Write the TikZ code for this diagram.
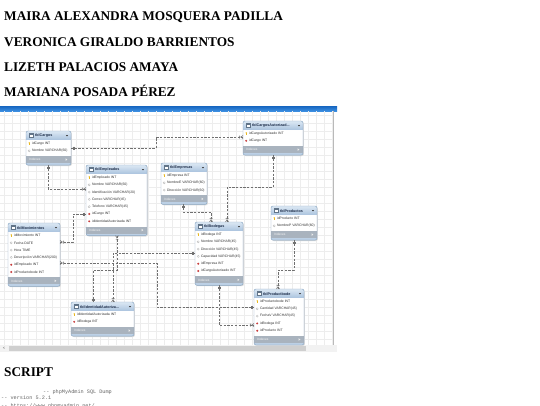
\documentclass[tikz,border=0pt]{standalone}
\usepackage{fontspec}
\setmainfont{Liberation Serif}
\setmonofont{Liberation Mono}
\newfontfamily\uifont{Liberation Sans}
\usetikzlibrary{calc}

\definecolor{hdtop}{HTML}{DCE8F4}
\definecolor{hdbot}{HTML}{A6C0DC}
\definecolor{tbord}{HTML}{8AA6C2}
\definecolor{idxbar}{HTML}{A9B3BE}
\definecolor{conn}{HTML}{707070}
\definecolor{gridc}{HTML}{EDEDED}
\definecolor{bartop}{HTML}{1565C0}
\definecolor{barbot}{HTML}{3C8EE0}
\definecolor{keyc}{HTML}{E8B820}
\definecolor{fkc}{HTML}{C83C3C}
\definecolor{rowc}{HTML}{333333}
\definecolor{hdc}{HTML}{1C2C48}
\definecolor{codec}{HTML}{666666}

\newcommand\iconk[2]{%
  \fill[keyc] ({#1},{#2-0.7}) circle[radius=0.75pt];
  \fill[keyc] ({#1-0.3},{#2-0.5}) rectangle ({#1+0.3},{#2+1.4});
}
\newcommand\iconn[2]{%
  \filldraw[draw=gray!65, fill=white, line width=0.25pt] ({#1},{#2-1.1}) -- ({#1+1.1},{#2}) -- ({#1},{#2+1.1}) -- ({#1-1.1},{#2}) -- cycle;
}
\newcommand\iconf[2]{%
  \fill[fkc] ({#1},{#2-1.1}) -- ({#1+1.1},{#2}) -- ({#1},{#2+1.1}) -- ({#1-1.1},{#2}) -- cycle;
}

% #1 name, #2 left, #3 top, #4 width, #5 title, #6 number of rows, #7 rows
\newcommand\dbtable[7]{%
  \pgfmathsetmacro\tH{19.5+7.3*#6}%
  \pgfmathsetmacro\tR{#2+#4}%
  \pgfmathsetmacro\tB{#3+\tH}%
  \pgfmathsetmacro\tI{#3+10.5+7.3*#6}%
  \fill[black!14, rounded corners=2pt] ({#2+0.9},{#3+0.9}) rectangle ({\tR+0.9},{\tB+0.9});
  \fill[hdbot!75, rounded corners=2pt] (#2,#3) rectangle (\tR,\tB);
  \shade[top color=hdtop, bottom color=hdbot, rounded corners=2pt] (#2,#3) rectangle (\tR,{#3+9.5});
  \fill[white] ({#2+0.4},{#3+9}) rectangle ({\tR-0.4},\tI);
  \fill[idxbar] ({#2+0.4},\tI) rectangle ({\tR-0.4},{\tI+7});
  \filldraw[draw=tbord!70!black, fill=white, line width=0.3pt] ({#2+3},{#3+2.6}) rectangle ({#2+7},{#3+6.6});
  \fill[tbord!70!black] ({#2+3},{#3+2.6}) rectangle ({#2+7},{#3+3.6});
  \node[hdtext, anchor=west] (#1-t) at ({#2+9},{#3+4.8}) {#5};
  \fill[gray!50!black] ({\tR-5.2},{#3+4}) -- ({\tR-2.8},{#3+4}) -- ({\tR-4},{#3+5.4}) -- cycle;
  \foreach \rowkind/\rowtxt [count=\ri] in {#7} {%
    \pgfmathsetmacro\yy{#3+12.5+7.3*(\ri-1)}%
    \csname icon\rowkind\endcsname{#2+3.2}{\yy}%
    \node[rowtext, anchor=west] (#1-r\ri) at ({#2+5.8},\yy) {\rowtxt};
  }
  \node[idxtext, anchor=west] (#1-i) at ({#2+3},{\tI+3.6}) {Indexes};
  \fill[white!85!gray] ({\tR-5.5},{\tI+2.2}) -- ({\tR-3.6},{\tI+3.5}) -- ({\tR-5.5},{\tI+4.8}) -- cycle;
  \node[tblframe, minimum width={#4 pt}, minimum height={\tH pt}] (#1) at (#2,#3) {};
}

\tikzset{
  titletext/.style={anchor=base west, inner sep=0, font=\fontsize{13.3}{16}\selectfont\bfseries},
  codetext/.style={anchor=base west, inner sep=0, font=\ttfamily\fontsize{5.2}{6}\selectfont, text=codec},
  rowtext/.style={inner sep=0, font=\uifont\fontsize{3.4}{4}\selectfont, text=rowc},
  hdtext/.style={inner sep=0, font=\uifont\bfseries\fontsize{3.7}{4.4}\selectfont, text=hdc},
  idxtext/.style={inner sep=0, font=\uifont\fontsize{3.2}{4}\selectfont, text=white!92!gray},
  tblframe/.style={draw=tbord, line width=0.45pt, rounded corners=2pt, inner sep=0, outer sep=0, anchor=north west},
  relline/.style={draw=conn, line width=0.45pt, dash pattern=on 2.3pt off 1.4pt},
  gridline/.style={draw=gridc, line width=0.3pt},
  onemk/.pic={\draw[conn, line width=0.4pt] (0,0) -- (4.2,0) (1.8,-1.5) -- (1.8,1.5) (3.2,-1.5) -- (3.2,1.5);},
  manymk/.pic={\draw[conn, line width=0.4pt] (0,-1.6) -- (2.4,0) -- (0,1.6) (0,0) -- (4.6,0) (3.6,-1.5) -- (3.6,1.5);}
}

\begin{document}
\begin{tikzpicture}[x=1pt,y=-1pt]
\useasboundingbox (0,0) rectangle (540,405);
\fill[white] (0,0) rectangle (540,405);

% names
\node[titletext] (n1) at (4,20.7) {MAIRA ALEXANDRA MOSQUERA PADILLA};
\node[titletext] (n2) at (4,46.2) {VERONICA GIRALDO BARRIENTOS};
\node[titletext] (n3) at (4,71.2) {LIZETH PALACIOS AMAYA};
\node[titletext] (n4) at (4,96) {MARIANA POSADA PÉREZ};

% blue bar
\shade[top color=bartop, bottom color=barbot] (0,106) rectangle (337,111);

% grid
\foreach \gx in {4,12,...,332} \draw[gridline] (\gx,111) -- (\gx,345);
\foreach \gy in {115,123,...,344} \draw[gridline] (0,\gy) -- (333,\gy);
\draw[gray!55, line width=0.4pt] (333,111) -- (333,345);

% scrollbar
\fill[gray!10] (0,345) rectangle (337,352);
\fill[gray!38] (9,346.3) rectangle (306,350.7);
\node[inner sep=0, font=\uifont\fontsize{4}{4}\selectfont, text=gray!70!black] (sl) at (4,348.5) {<};

% tables
\dbtable{cargos}{26}{131}{45}{tblCargos}{2}{k/idCargo INT, n/Nombre VARCHAR(60)}
\dbtable{empleados}{86}{165}{61}{tblEmpleados}{7}{k/idEmpleado INT, n/Nombre VARCHAR(60), n/Identificación VARCHAR(20), n/Correo VARCHAR(45), n/Telefono VARCHAR(45), f/idCargo INT, f/idIdentidadAutorizada INT}
\dbtable{empresas}{161}{163}{46}{tblEmpresas}{3}{k/idEmpresa INT, n/NombreE VARCHAR(60), n/Dirección VARCHAR(60)}
\dbtable{cargosaut}{243}{121}{60}{tblCargosAutorizad...}{2}{k/idCargoAutorizado INT, f/idCargo INT}
\dbtable{movimientos}{8}{223}{52}{tblMovimientos}{6}{k/idMovimiento INT, n/Fecha DATE, n/Hora TIME, n/Descripción VARCHAR(200), f/idEmpleado INT, f/idProductobode INT}
\dbtable{bodegas}{195}{222}{48}{tblBodegas}{6}{k/idBodega INT, n/Nombre VARCHAR(45), n/Dirección VARCHAR(45), n/Capacidad VARCHAR(45), f/idEmpresa INT, f/idCargoAutorizado INT}
\dbtable{productos}{271}{206}{46}{tblProductos}{2}{k/idProducto INT, n/NombreP VARCHAR(60)}
\dbtable{productbode}{254}{289}{50}{tblProductbode}{5}{k/idProductobode INT, n/Cantidad VARCHAR(45), n/FechaV VARCHAR(45), f/idBodega INT, f/idProducto INT}
\dbtable{identidad}{71}{302}{63}{tblIdentidadAutoriza...}{2}{k/idIdentidadAutorizada INT, f/idBodega INT}

% connectors
\draw[relline] (cargos.east |- 0,148) -| (156,137) -- (cargosaut.west |- 0,137);
\pic at (cargos.east |- 0,148) {onemk};
\pic[rotate=180] at (cargosaut.west |- 0,137) {manymk};

\draw[relline] (cargos.south -| 48,0) |- (empleados.west |- 0,189);
\pic[rotate=-90] at (cargos.south -| 48,0) {onemk};
\pic[rotate=180] at (empleados.west |- 0,189) {manymk};

\draw[relline] (empleados.west |- 0,214) -| (73,242) -- (movimientos.east |- 0,242);
\pic[rotate=180] at (empleados.west |- 0,214) {onemk};
\pic at (movimientos.east |- 0,242) {manymk};

\draw[relline] (movimientos.east |- 0,263) -| (157,307) -- (productbode.west |- 0,307);
\pic at (movimientos.east |- 0,263) {manymk};
\pic[rotate=180] at (productbode.west |- 0,307) {onemk};

\draw[relline] (empresas.south -| 183,0) |- (211,212) -- (bodegas.north -| 211,0);
\pic[rotate=-90] at (empresas.south -| 183,0) {onemk};
\pic[rotate=90] at (bodegas.north -| 211,0) {manymk};

\draw[relline] (cargosaut.south -| 273,0) |- (227,187) -- (bodegas.north -| 227,0);
\pic[rotate=-90] at (cargosaut.south -| 273,0) {onemk};
\pic[rotate=90] at (bodegas.north -| 227,0) {manymk};

\draw[relline] (productos.south -| 294,0) |- (278,270) -- (productbode.north -| 278,0);
\pic[rotate=-90] at (productos.south -| 294,0) {onemk};
\pic[rotate=90] at (productbode.north -| 278,0) {manymk};

\draw[relline] (bodegas.south -| 219,0) |- (productbode.west |- 0,325);
\pic[rotate=-90] at (bodegas.south -| 219,0) {onemk};
\pic[rotate=180] at (productbode.west |- 0,325) {manymk};

\draw[relline] (empleados.south -| 117,0) |- (93,270) -- (identidad.north -| 93,0);
\pic[rotate=-90] at (empleados.south -| 117,0) {manymk};
\pic[rotate=90] at (identidad.north -| 93,0) {onemk};

\draw[relline] (bodegas.west |- 0,253) -| (identidad.north -| 113,0);
\pic[rotate=180] at (bodegas.west |- 0,253) {onemk};
\pic[rotate=90] at (identidad.north -| 113,0) {manymk};

% script
\node[titletext] (scr) at (4,376.7) {SCRIPT};
\node[codetext] (c1) at (43,393.5) {-- phpMyAdmin SQL Dump};
\node[codetext] (c2) at (1,399.5) {-- version 5.2.1};
\node[codetext] (c3) at (1,407) {-- https://www.phpmyadmin.net/};
\end{tikzpicture}
\end{document}
